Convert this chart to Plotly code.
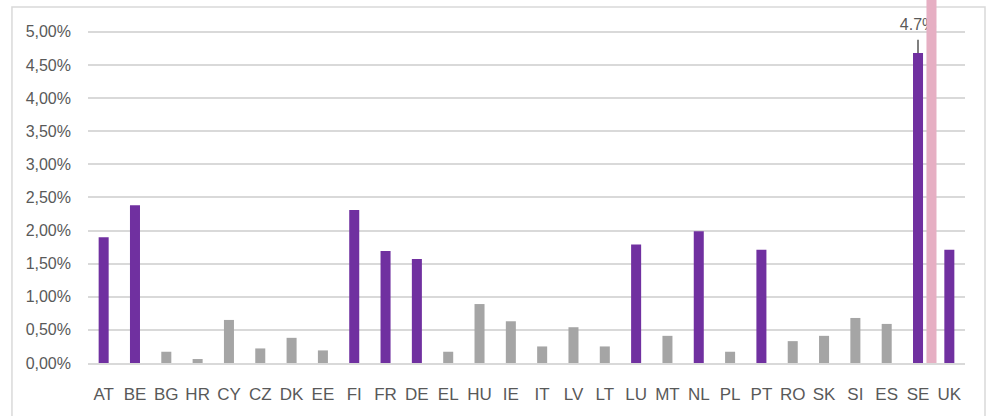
import plotly.graph_objects as go

countries = ["AT", "BE", "BG", "HR", "CY", "CZ", "DK", "EE", "FI", "FR", "DE", "EL", "HU", "IE",
             "IT", "LV", "LT", "LU", "MT", "NL", "PL", "PT", "RO", "SK", "SI", "ES", "SE", "UK"]
values = [0.0190, 0.0238, 0.0017, 0.0006, 0.0065, 0.0022, 0.0038, 0.0019, 0.0231, 0.0169, 0.0157, 0.0017, 0.0089, 0.0063,
          0.0025, 0.0054, 0.0025, 0.0179, 0.0041, 0.0199, 0.0017, 0.0171, 0.0033, 0.0041, 0.0068, 0.0059, 0.0468, 0.0171]
highlight = ["AT", "BE", "FI", "FR", "DE", "LU", "NL", "PT", "SE", "UK"]
pink_x = ["SE"]
pink_values = [0.0600]
label_x = ["SE"]
label_text = ["4.7%"]
leader_len = [0.0020]
label_gap = [0.0030]

PURPLE = "#7030A0"
GRAY = "#A5A5A5"
PINK = "#E6AFC3"
GRID = "#D9D9D9"
TXT = "#595959"

colors = [PURPLE if c in highlight else GRAY for c in countries]
BW = 0.32
label_base = [values[countries.index(c)] for c in label_x]

fig = go.Figure()
fig.add_trace(go.Bar(x=countries, y=values, marker=dict(color=colors, line=dict(width=0)),
                     width=BW, offset=-BW / 2, hoverinfo="x+y"))
# leader line above SE
fig.add_trace(go.Bar(x=label_x, y=leader_len, base=label_base,
                     width=0.03, offset=-0.015, marker=dict(color="#7F7F7F", line=dict(width=0)),
                     hoverinfo="skip"))
# data label (text placed just above an invisible carrier bar)
fig.add_trace(go.Bar(x=label_x, y=label_gap, base=label_base,
                     width=0.03, offset=-0.015, marker=dict(color="rgba(0,0,0,0)", line=dict(width=0)),
                     text=label_text, textposition="outside", constraintext="none", cliponaxis=False,
                     textfont=dict(family="Liberation Sans", size=16, color=TXT), hoverinfo="skip"))
fig.add_trace(go.Bar(x=pink_x, y=pink_values, width=BW, offset=0.27,
                     marker=dict(color=PINK, line=dict(width=0))))

fig.update_layout(
    width=989, height=416,
    margin=dict(l=88, r=24, t=0, b=53),
    barmode="overlay",
    showlegend=False,
    paper_bgcolor="white",
    plot_bgcolor="rgba(0,0,0,0)",
    separators=", ",
    xaxis=dict(type="category", categoryorder="array", categoryarray=countries,
               showgrid=False, showline=True, linecolor=GRID, linewidth=2,
               ticks="", ticklabelstandoff=15,
               tickfont=dict(family="Liberation Sans", size=17, color=TXT)),
    yaxis=dict(range=[0, 0.0548], dtick=0.005, tickformat=".2%", showgrid=True,
               gridcolor=GRID, gridwidth=1.5, zeroline=False, showline=False,
               ticks="", ticklabelstandoff=16,
               tickfont=dict(family="Liberation Sans", size=16, color=TXT)),
    shapes=[dict(type="rect", xref="paper", yref="paper", x0=-0.0867, x1=1.0228, y0=-0.3, y1=0.9807,
                 line=dict(color=GRID, width=1.5), fillcolor="rgba(0,0,0,0)", layer="below")],
)

fig.write_html("out.html", config={"displayModeBar": False},
               post_script="document.body.style.margin='0';")
